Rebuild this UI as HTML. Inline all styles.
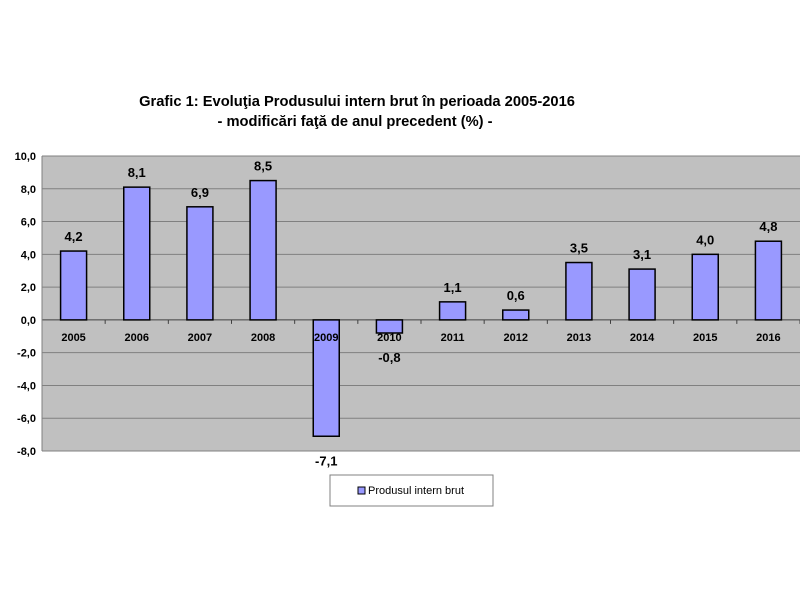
<!DOCTYPE html>
<html><head><meta charset="utf-8"><style>
body{margin:0;background:#fff;font-family:"Liberation Sans",Arial,sans-serif}
</style></head><body>
<svg width="800" height="600" font-family="Liberation Sans, Arial, sans-serif">
<text x="357" y="106" text-anchor="middle" font-size="14.7" font-weight="bold">Grafic 1: Evoluţia Produsului intern brut în perioada 2005-2016</text>
<text x="355" y="126" text-anchor="middle" font-size="14.7" font-weight="bold">- modificări faţă de anul precedent (%) -</text>
<rect x="42" y="156" width="758" height="295" fill="#c0c0c0"/>
<g id="grid"></g><g id="bars"></g><g id="labels"></g>
<line x1="42" y1="156" x2="42" y2="451" stroke="#808080"/>
<g>
<rect x="330" y="475" width="163" height="31" fill="#fff" stroke="#808080"/>
<rect x="358" y="487" width="7" height="7" fill="#9999ff" stroke="#000"/>
<text x="368" y="494" font-size="11">Produsul intern brut</text>
</g>
</svg>
<script>
const categories=["2005","2006","2007","2008","2009","2010","2011","2012","2013","2014","2015","2016"];
const values=[4.2,8.1,6.9,8.5,-7.1,-0.8,1.1,0.6,3.5,3.1,4.0,4.8];
const yTicks=[10,8,6,4,2,0,-2,-4,-6,-8];
const NS="http://www.w3.org/2000/svg";
const pLeft=42,pRight=800,pTop=156,pBottom=451,ymax=10,ymin=-8;
const yS=v=>pTop+(ymax-v)/(ymax-ymin)*(pBottom-pTop);
const cw=(pRight-pLeft)/categories.length;
const xS=i=>pLeft+cw*(i+0.5);
const fmt=v=>v.toFixed(1).replace('.',',');
function mk(tag,attrs,parent,text){const e=document.createElementNS(NS,tag);for(const k in attrs)e.setAttribute(k,attrs[k]);if(text!==undefined)e.textContent=text;document.getElementById(parent).appendChild(e);return e;}
yTicks.forEach(t=>{
 const l=mk('line',{x1:pLeft,x2:pRight,y1:yS(t),y2:yS(t),stroke:t===0?'#404040':'#808080','stroke-width':1},'grid');
 
 
 const tx=mk('text',{x:pLeft-6,y:yS(t)+4,'text-anchor':'end','font-size':11,'font-weight':'bold'},'grid',fmt(t));
 
 
});
categories.forEach((c,i)=>{
 const tk=mk('line',{x1:pLeft+cw*(i+1),x2:pLeft+cw*(i+1),y1:yS(0),y2:yS(0)+4,stroke:'#404040'},'grid');
 
 
 const v=values[i],bw=26;
 const b=mk('rect',{x:xS(i)-bw/2,y:Math.min(yS(v),yS(0)),width:bw,height:Math.abs(yS(v)-yS(0)),fill:'#9999ff',stroke:'#000','stroke-width':1.5},'bars');
 
 
 const cl=mk('text',{x:xS(i),y:yS(0)+21,'text-anchor':'middle','font-size':11,'font-weight':'bold'},'labels',c);
 
 
 const ly=v>=0?yS(v)-10:yS(v)+29;
 const vl=mk('text',{x:xS(i),y:ly,'text-anchor':'middle','font-size':13,'font-weight':'bold'},'labels',fmt(v));
 
 
});
</script>
</body></html>
